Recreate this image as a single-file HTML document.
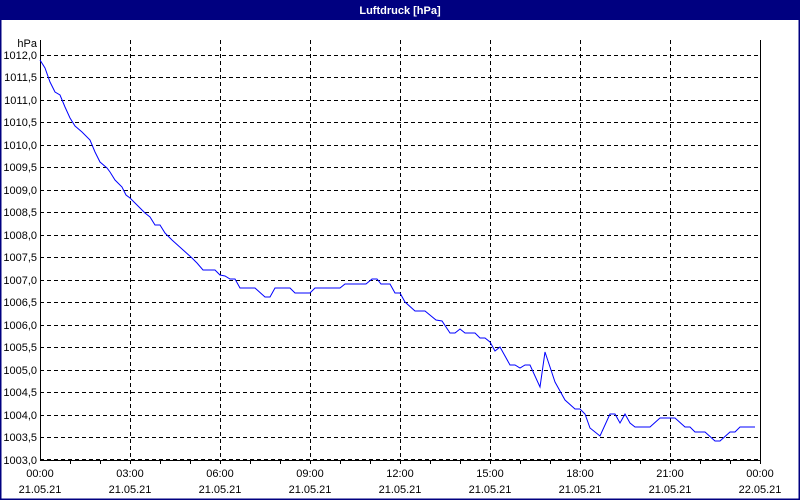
<!DOCTYPE html>
<html><head><meta charset="utf-8"><style>
body{margin:0;background:#fff}
svg{display:block;font-family:"Liberation Sans",sans-serif;font-size:11px}
</style></head><body>
<svg width="800" height="500" xmlns="http://www.w3.org/2000/svg">
<rect x="0" y="0" width="800" height="500" fill="#fff"/>
<rect x="0.5" y="0.5" width="799" height="499" fill="none" stroke="#000080" stroke-width="2"/>
<rect x="0" y="0" width="800" height="20" fill="#000080"/>
<text x="400" y="14" fill="#fff" font-weight="bold" text-anchor="middle" font-size="11">Luftdruck [hPa]</text>
<g stroke="#000" stroke-dasharray="4,3" stroke-width="1">
<path d="M40 55.5H760M40 77.5H760M40 100.5H760M40 122.5H760M40 145.5H760M40 167.5H760M40 190.5H760M40 212.5H760M40 235.5H760M40 257.5H760M40 280.5H760M40 302.5H760M40 325.5H760M40 347.5H760M40 370.5H760M40 392.5H760M40 415.5H760M40 437.5H760M40 459.5H760"/>
<path d="M130.5 40V460M220.5 40V460M310.5 40V460M400.5 40V460M490.5 40V460M580.5 40V460M670.5 40V460"/>
</g>
<path d="M40.5 40V460.5H760.5V40" fill="none" stroke="#000" stroke-width="1"/>
<g stroke="#000">
<path d="M70.5 460v4M100.5 460v4M130.5 460v4M160.5 460v4M190.5 460v4M220.5 460v4M250.5 460v4M280.5 460v4M310.5 460v4M340.5 460v4M370.5 460v4M400.5 460v4M430.5 460v4M460.5 460v4M490.5 460v4M520.5 460v4M550.5 460v4M580.5 460v4M610.5 460v4M640.5 460v4M670.5 460v4M700.5 460v4M730.5 460v4M760.5 460v4"/>
</g>
<polyline fill="none" stroke="#0000ff" stroke-width="1" points="40,60 45,68 50,82 55,92 60,95 65,107 70,118 75,126 82,132 90,140 95,152 100,162 107,168 110,172 115,180 122,187 126,195 130,198 137,205 145,213 150,217 155,225 160,225 165,233 172,240 182,249 192,258 197,263 203,270 215,270 220,275 225,276 230,279 235,279 240,288 255,288 265,297 270,297 275,288 290,288 295,293 310,293 315,288 340,288 345,284 366,284 372,279 377,279 381,284 390,284 395,293 400,293 405,302 415,311 425,311 436,320 442,321 450,333 455,333 460,329 465,333 475,333 480,338 485,338 490,342 495,351 500,347 510,365 515,365 520,368 525,365 530,365 540,387 545,352 555,382 565,400 575,409 580,409 585,414 590,428 600,436 610,414 615,414 620,423 625,414 630,423 635,427 650,427 660,418 675,418 685,427 690,427 695,432 705,432 715,441 720,441 730,432 735,432 740,427 755,427"/>
<g text-anchor="end" fill="#000">
<text x="37" y="47">hPa</text>
<text x="37" y="59">1012,0</text><text x="37" y="81">1011,5</text><text x="37" y="104">1011,0</text><text x="37" y="126">1010,5</text><text x="37" y="149">1010,0</text><text x="37" y="171">1009,5</text><text x="37" y="194">1009,0</text><text x="37" y="216">1008,5</text><text x="37" y="239">1008,0</text><text x="37" y="261">1007,5</text><text x="37" y="284">1007,0</text><text x="37" y="306">1006,5</text><text x="37" y="329">1006,0</text><text x="37" y="351">1005,5</text><text x="37" y="374">1005,0</text><text x="37" y="396">1004,5</text><text x="37" y="419">1004,0</text><text x="37" y="441">1003,5</text><text x="37" y="464">1003,0</text>
</g>
<g text-anchor="middle" fill="#000">
<text x="40" y="477">00:00</text><text x="130" y="477">03:00</text><text x="220" y="477">06:00</text><text x="310" y="477">09:00</text><text x="400" y="477">12:00</text><text x="490" y="477">15:00</text><text x="580" y="477">18:00</text><text x="670" y="477">21:00</text><text x="760" y="477">00:00</text>
<text x="40" y="493">21.05.21</text><text x="130" y="493">21.05.21</text><text x="220" y="493">21.05.21</text><text x="310" y="493">21.05.21</text><text x="400" y="493">21.05.21</text><text x="490" y="493">21.05.21</text><text x="580" y="493">21.05.21</text><text x="670" y="493">21.05.21</text><text x="760" y="493">22.05.21</text>
</g>
</svg>
</body></html>
